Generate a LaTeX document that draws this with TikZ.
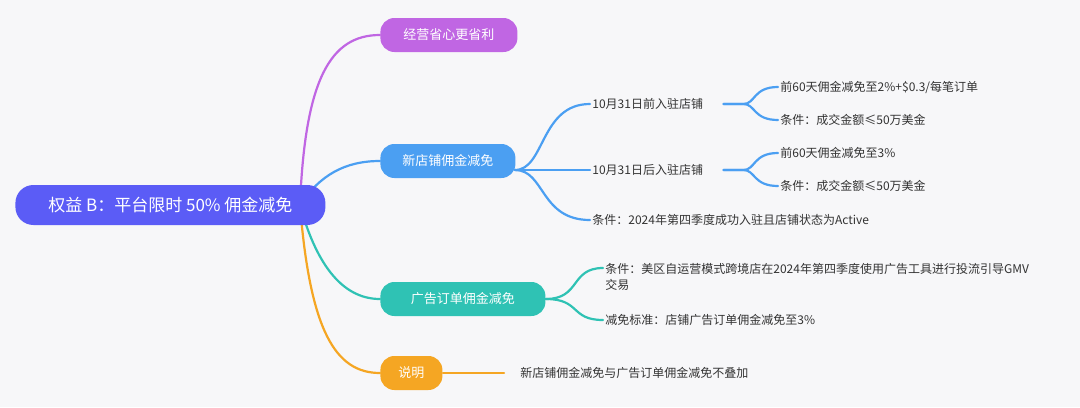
\documentclass[tikz,border=0pt]{standalone}
\usepackage{fontspec}
\setmainfont{Noto Sans CJK SC}
\usetikzlibrary{positioning}
\definecolor{bgcol}{HTML}{F7F7F9}
\definecolor{rootcol}{HTML}{5B5CF6}
\definecolor{purcol}{HTML}{C066E3}
\definecolor{bluecol}{HTML}{4B9FF2}
\definecolor{tealcol}{HTML}{2FC2B4}
\definecolor{orgcol}{HTML}{F5A623}
\definecolor{txtcol}{HTML}{333333}
\tikzset{
  topic/.style={rounded corners=7pt,text=white,font=\fontsize{6.5}{8}\selectfont,
    minimum height=17pt,inner xsep=9pt,anchor=west},
  leaf/.style={text=txtcol,font=\fontsize{6}{8}\selectfont,anchor=west,inner sep=1pt},
  link/.style={line width=1.1pt,line cap=round}
}
\begin{document}
\begin{tikzpicture}[x=0.5pt,y=-0.5pt]
  \fill[bgcol] (0,0) rectangle (1080,407);
  \useasboundingbox (0,0) rectangle (1080,407);
  \coordinate (hub) at (300,205);
  % main topics
  \node[topic,fill=purcol,minimum width=68.5pt] (save) at (380,35) {经营省心更省利};
  \node[topic,fill=bluecol,minimum width=67.5pt] (new) at (380,161) {新店铺佣金减免};
  \node[topic,fill=tealcol,minimum width=82.5pt] (ads) at (380,299) {广告订单佣金减免};
  \node[topic,fill=orgcol,minimum width=30pt] (note) at (380,373) {说明};
  \draw[link,purcol] (hub) .. controls (305,80) and (330,35) .. (save.west);
  \draw[link,bluecol] (hub) .. controls (320,175) and (345,161) .. (new.west);
  \draw[link,tealcol] (hub) .. controls (315,260) and (340,299) .. (ads.west);
  \draw[link,orgcol] (hub) .. controls (310,330) and (335,373) .. (note.west);
  % new shop
  \node[leaf] (before) at (590,104) {10月31日前入驻店铺};
  \node[leaf] (after) at (590,170) {10月31日后入驻店铺};
  \node[leaf] (cond) at (590,220) {条件：2024年第四季度成功入驻且店铺状态为Active};
  \coordinate (newr) at (515,170);
  \draw[link,bluecol] (newr) .. controls (545,170) and (540,104) .. (before.west);
  \draw[link,bluecol] (newr) -- (after.west);
  \draw[link,bluecol] (newr) .. controls (545,170) and (540,220) .. (cond.west);
  \node[leaf] (b1) at (778,87) {前60天佣金减免至2\%+\$0.3/每笔订单};
  \node[leaf] (b2) at (778,120) {条件：成交金额≤50万美金};
  \node[leaf] (a1) at (778,153) {前60天佣金减免至3\%};
  \node[leaf] (a2) at (778,186) {条件：成交金额≤50万美金};
  \foreach \p/\c in {before/b1,before/b2,after/a1,after/a2} {
    \draw[link,bluecol] ([xshift=9pt]\p.east) -- ([xshift=19pt]\p.east)
      .. controls +(12,0) and +(-25,0) .. (\c.west);
  }
  % ads
  \node[leaf,align=left] (adcond) at (603,277) {条件：美区自运营模式跨境店在2024年第四季度使用广告工具进行投流引导GMV\\交易};
  \node[leaf] (adstd) at (603,320) {减免标准：店铺广告订单佣金减免至3\%};
  \draw[link,tealcol] (ads.east) .. controls +(35,0) and (570,268) .. ([yshift=4.5pt]adcond.west);
  \draw[link,tealcol] (ads.east) .. controls +(35,0) and (570,320) .. (adstd.west);
  % note
  \node[leaf] (notetxt) at (518,373) {新店铺佣金减免与广告订单佣金减免不叠加};
  \draw[link,orgcol] (note.east) -- ([xshift=-7pt]notetxt.west);
  % root
  \node[topic,fill=rootcol,font=\fontsize{8.5}{10}\selectfont,minimum height=20pt,
    minimum width=155pt,rounded corners=9pt] (root) at (15,205) {权益 B：平台限时 50\% 佣金减免};
\end{tikzpicture}
\end{document}
